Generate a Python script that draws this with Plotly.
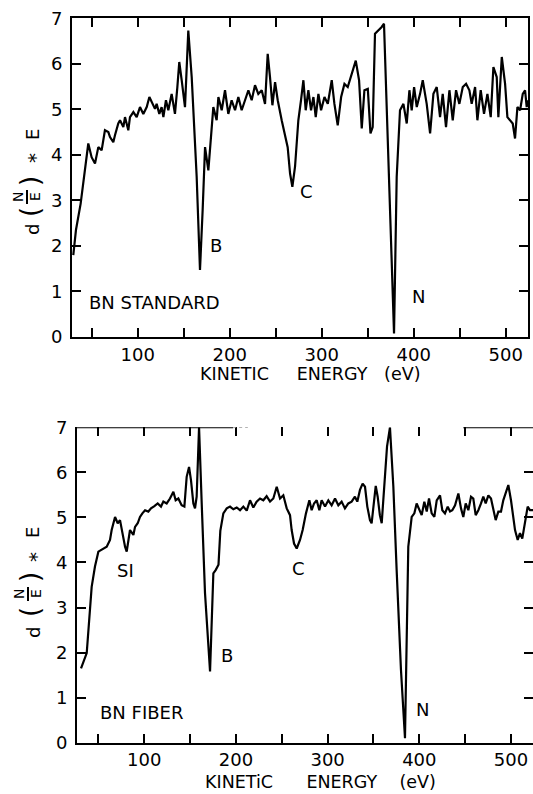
import plotly.graph_objects as go

W, H = 533, 794
FONT = "DejaVu Sans"

# ---------------- data ----------------
top_energy = [30.0, 32.9, 38.0, 42.7, 46.3, 49.9, 53.6, 57.2, 60.8, 64.4, 68.1, 69.9, 73.5, 75.3,
              78.9, 80.8, 84.4, 86.2, 89.8, 91.6, 95.3, 98.9, 102.5, 106.1, 109.8, 112.7, 115.2,
              118.8, 120.6, 123.5, 126.0, 127.9, 130.7, 133.3, 136.9, 140.5, 143.1, 145.2, 147.8,
              151.4, 155.0, 158.7, 164.1, 167.7, 170.6, 173.2, 176.8, 179.3, 182.2, 185.8, 187.7,
              191.3, 194.9, 198.5, 202.1, 205.8, 209.4, 213.0, 216.6, 220.3, 223.9, 227.5, 231.1,
              234.8, 238.4, 241.3, 243.8, 246.4, 249.3, 252.2, 256.5, 260.1, 263.0, 265.6, 268.1,
              271.0, 274.6, 277.5, 280.1, 282.6, 285.5, 288.4, 291.0, 293.5, 296.4, 299.3, 303.0,
              306.6, 310.9, 313.8, 317.4, 321.1, 324.7, 328.3, 331.9, 337.0, 340.6, 343.5, 346.4,
              350.1, 353.0, 355.4, 357.9, 361.5, 365.2, 367.7, 370.6, 374.2, 378.6, 381.5, 385.1,
              388.8, 392.4, 395.3, 397.8, 400.4, 403.3, 406.9, 409.8, 414.1, 417.8, 421.4, 425.0,
              428.6, 431.5, 435.1, 438.8, 442.4, 446.0, 449.6, 453.3, 456.9, 460.5, 463.0, 466.7,
              469.2, 472.8, 476.4, 480.1, 483.7, 486.6, 490.2, 492.0, 495.7, 499.3, 501.8, 504.7,
              507.6, 510.1, 512.7, 515.6, 518.5, 521.0, 522.8, 524.2]
top_signal = [1.80, 2.35, 2.93, 3.66, 4.25, 3.95, 3.81, 4.17, 4.10, 4.54, 4.50, 4.39, 4.28, 4.43,
              4.69, 4.76, 4.61, 4.83, 4.54, 4.83, 4.94, 4.83, 5.05, 4.90, 5.05, 5.27, 5.16,
              5.01, 5.12, 4.90, 5.05, 4.83, 5.20, 4.98, 5.34, 4.90, 5.49, 6.04, 5.64,
              5.05, 6.73, 5.71, 3.52, 1.47, 2.79, 4.17, 3.66, 4.25, 5.05, 4.76, 5.27,
              4.98, 5.42, 4.90, 5.20, 4.98, 5.27, 4.98, 5.20, 5.42, 5.20, 5.53, 5.34,
              5.42, 5.12, 6.22, 5.71, 5.09, 5.60, 5.20, 4.76, 4.39, 4.17, 3.59, 3.30,
              3.74, 4.76, 5.20, 5.64, 4.98, 5.42, 4.98, 5.27, 4.83, 5.34, 4.98, 5.27,
              5.12, 5.64, 5.12, 4.65, 5.27, 5.56, 5.49, 5.71, 6.07, 5.64, 4.58, 5.42,
              5.45, 4.47, 4.61, 6.66, 6.73, 6.81, 6.88, 4.98, 2.79, 0.08, 3.52, 4.98,
              5.12, 4.69, 5.42, 4.98, 5.49, 5.05, 5.34, 5.64, 5.12, 4.47, 5.34, 5.49,
              4.83, 5.34, 4.61, 5.42, 4.76, 5.42, 5.12, 5.49, 5.56, 5.42, 5.12, 5.49,
              4.76, 5.42, 4.90, 5.34, 4.83, 5.93, 5.71, 4.83, 6.15, 5.56, 4.83, 4.76,
              4.69, 4.36, 5.05, 4.98, 5.34, 5.42, 5.05, 5.20]

bot_energy = [31.1, 37.3, 42.7, 46.3, 50.0, 53.6, 59.1, 62.7, 64.5, 68.2, 71.1, 73.6, 76.2, 79.1,
              80.9, 84.5, 88.2, 90.0, 92.9, 95.4, 98.0, 100.9, 104.5, 107.4, 111.1, 114.7, 118.3,
              120.9, 124.5, 128.1, 131.8, 134.3, 137.2, 140.8, 143.8, 146.3, 148.9, 151.0, 153.6,
              155.4, 157.2, 159.8, 162.7, 166.3, 171.8, 175.4, 177.9, 181.0, 183.0, 186.3, 190.0,
              193.6, 197.2, 200.9, 204.5, 208.1, 211.8, 215.4, 219.0, 222.6, 226.3, 229.9, 233.5,
              237.2, 240.8, 244.5, 248.1, 251.7, 255.4, 259.0, 260.8, 263.4, 266.3, 269.9, 272.8,
              276.4, 280.1, 282.6, 285.2, 288.1, 291.0, 293.5, 297.2, 300.8, 304.4, 308.1, 311.7,
              315.3, 318.9, 322.6, 326.2, 329.8, 332.4, 335.3, 338.2, 340.8, 343.3, 346.2, 348.0,
              350.6, 352.5, 354.6, 357.0, 359.0, 361.9, 364.8, 368.0, 371.7, 375.3, 380.0, 384.4,
              388.0, 391.7, 394.6, 397.1, 399.7, 402.6, 405.5, 408.1, 410.6, 413.5, 416.4, 419.0,
              422.6, 425.1, 428.0, 431.0, 433.5, 436.0, 439.0, 442.6, 445.5, 448.0, 450.6, 453.5,
              456.4, 458.9, 461.5, 464.4, 467.3, 469.8, 472.4, 475.3, 478.2, 480.7, 483.3, 486.2,
              489.1, 491.6, 494.5, 497.1, 500.0, 502.5, 504.4, 507.3, 509.8, 512.3, 515.3, 518.2,
              520.7, 524.0]
bot_signal = [1.65, 1.99, 3.46, 3.91, 4.24, 4.28, 4.35, 4.50, 4.72, 5.01, 4.87, 4.94, 4.65, 4.35,
              4.24, 4.72, 4.61, 4.79, 4.87, 5.01, 5.09, 5.16, 5.13, 5.20, 5.25, 5.31, 5.24,
              5.35, 5.31, 5.42, 5.57, 5.38, 5.42, 5.27, 5.24, 5.90, 6.12, 5.83, 5.31,
              5.20, 5.46, 7.00, 5.31, 3.32, 1.58, 3.76, 3.83, 3.95, 4.70, 5.09, 5.20,
              5.24, 5.18, 5.22, 5.16, 5.24, 5.15, 5.38, 5.22, 5.35, 5.42, 5.38, 5.47,
              5.35, 5.42, 5.68, 5.42, 5.49, 5.20, 5.05, 4.72, 4.42, 4.31, 4.50, 4.72,
              5.09, 5.38, 5.16, 5.31, 5.38, 5.16, 5.38, 5.24, 5.38, 5.27, 5.42, 5.27,
              5.35, 5.20, 5.31, 5.35, 5.46, 5.35, 5.61, 5.75, 5.68, 5.24, 4.94, 4.87,
              5.31, 5.70, 5.46, 5.05, 4.87, 5.68, 6.57, 7.00, 5.68, 3.83, 1.62, 0.10,
              4.35, 5.01, 5.09, 5.31, 5.20, 5.05, 5.35, 5.13, 5.42, 5.09, 5.01, 5.38,
              5.49, 5.16, 5.09, 5.24, 5.13, 5.16, 5.27, 5.53, 5.20, 5.01, 5.31, 5.16,
              5.46, 5.42, 5.05, 5.16, 5.31, 5.46, 5.31, 5.49, 5.42, 5.16, 4.94, 5.13,
              5.13, 5.38, 5.57, 5.72, 5.38, 4.94, 4.72, 4.50, 4.65, 4.53, 4.87, 5.24,
              5.16, 5.16]

x_tick_vals = [50, 100, 150, 200, 250, 300, 350, 400, 450, 500]
x_tick_text = ["", "100", "", "200", "", "300", "", "400", "", "500"]
y_tick_vals = [0, 1, 2, 3, 4, 5, 6, 7]
y_tick_text = ["0", "1", "2", "3", "4", "5", "6", "7"]


def px(p):
    return p / W


def py(p):
    return 1 - p / H


fig = go.Figure()
line_style = dict(color="black", width=2.2)
fig.add_trace(go.Scatter(x=top_energy, y=top_signal, mode="lines", line=line_style,
                         xaxis="x", yaxis="y", showlegend=False, hoverinfo="skip"))
fig.add_trace(go.Scatter(x=bot_energy, y=bot_signal, mode="lines", line=line_style,
                         xaxis="x2", yaxis="y2", showlegend=False, hoverinfo="skip"))
# invisible trace to carry the top tick axis of the lower panel
fig.add_trace(go.Scatter(x=[bot_energy[0]], y=[bot_signal[0]], mode="markers",
                         marker=dict(opacity=0), xaxis="x3", yaxis="y2",
                         showlegend=False, hoverinfo="skip"))

tickfont = dict(family=FONT, size=18, color="black")
common = dict(showgrid=False, zeroline=False, ticks="inside", ticklen=9, tickwidth=2,
              tickcolor="black", showline=True, linewidth=2, linecolor="black",
              tickfont=tickfont, automargin=False)

fig.update_layout(
    template="none",
    width=W, height=H, autosize=False,
    margin=dict(l=0, r=0, t=0, b=0, pad=0),
    paper_bgcolor="white", plot_bgcolor="white",
    showlegend=False,
    xaxis=dict(common, domain=[px(72), px(528)], range=[28.6, 524.2], anchor="y",
               mirror="ticks", tickvals=x_tick_vals, ticktext=x_tick_text,
               ticklabeloverflow="allow"),
    yaxis=dict(common, domain=[py(337), py(18.3)], range=[0, 7], anchor="x",
               mirror="ticks", tickvals=y_tick_vals, ticktext=y_tick_text,
               ticklabelstandoff=4, ticklabeloverflow="allow"),
    xaxis2=dict(common, domain=[px(77), 1.0], range=[26.7, 524.0], anchor="y2",
                mirror=False, tickvals=x_tick_vals, ticktext=x_tick_text,
                ticklabeloverflow="allow"),
    xaxis3=dict(showgrid=False, zeroline=False, ticks="inside", ticklen=9, tickwidth=2,
                tickcolor="black", showline=False, showticklabels=False, automargin=False,
                overlaying="x2", side="top", anchor="y2", range=[26.7, 524.0],
                tickvals=x_tick_vals),
    yaxis2=dict(common, domain=[py(742.7), py(427.3)], range=[0, 7], anchor="x2",
                mirror="ticks", tickvals=y_tick_vals, ticktext=y_tick_text,
                ticklabelstandoff=4, ticklabeloverflow="allow"),
)

# partial top border of the lower panel
fig.add_shape(type="line", xref="x2", yref="y2", x0=26.7, x1=197, y0=7, y1=7,
              line=dict(color="black", width=2))
fig.add_shape(type="line", xref="x2", yref="y2", x0=197, x1=213, y0=7, y1=7,
              line=dict(color="#999999", width=1.5, dash="dot"))
fig.add_shape(type="line", xref="x2", yref="y2", x0=448, x1=524, y0=7, y1=7,
              line=dict(color="black", width=2))

ann = []
lab_font = dict(family=FONT, size=18, color="black")
title_font = dict(family=FONT, size=17.5, color="black")


def label(text, x, y, xr, yr, xanchor="center"):
    ann.append(dict(text=text, x=x, y=y, xref=xr, yref=yr, showarrow=False,
                    xanchor=xanchor, yanchor="middle", font=lab_font))


# peak labels, upper panel
label("B", 185, 2.0, "x", "y")
label("C", 283, 3.19, "x", "y")
label("N", 405, 0.88, "x", "y")
label("BN STANDARD", 44.6, 0.75, "x", "y", xanchor="left")
# peak labels, lower panel
label("SI", 80, 3.83, "x2", "y2")
label("B", 190, 1.93, "x2", "y2")
label("C", 268, 3.87, "x2", "y2")
label("N", 404, 0.73, "x2", "y2")
label("BN FIBER", 50, 0.66, "x2", "y2", xanchor="left")

NB = "\u00a0"
ann.append(dict(text="KINETIC" + NB * 5 + "ENERGY" + NB * 3 + "(eV)", x=px(310.5), y=py(373.5),
                xref="paper", yref="paper", showarrow=False, xanchor="center",
                yanchor="middle", font=title_font))
ann.append(dict(text="KINETiC" + NB * 6 + "ENERGY" + NB * 4 + "(eV)", x=px(320), y=py(782),
                xref="paper", yref="paper", showarrow=False, xanchor="center",
                yanchor="middle", font=title_font))


def ytitle(pos, bar):
    for text, x, y, size in pos:
        ann.append(dict(text=text, x=px(x), y=py(y), xref="paper", yref="paper",
                        showarrow=False, textangle=-90, xanchor="center",
                        yanchor="middle", font=dict(family=FONT, size=size, color="black")))
    fig.add_shape(type="line", xref="paper", yref="paper", x0=px(bar[0]), x1=px(bar[0]),
                  y0=py(bar[1]), y1=py(bar[2]), line=dict(color="black", width=2))


ytitle([("d", 33, 230, 18), ("(", 30, 212, 26), ("N", 18, 197, 14), ("E", 35, 197, 14),
        (")", 30, 181, 26), ("*", 35, 158, 20), ("E", 32, 135, 18)], (27, 190, 204))
ytitle([("d", 33, 633, 18), ("(", 30, 612, 26), ("N", 19, 594, 14), ("E", 36, 594, 14),
        (")", 30, 577, 26), ("*", 36, 557, 20), ("E", 32, 533, 18)], (28, 587, 601))

fig.update_layout(annotations=ann)
fig.write_html(
    "out.html",
    config={"displayModeBar": False, "staticPlot": True},
    post_script="document.body.style.margin='0';document.body.style.padding='0';"
                "document.body.style.overflow='hidden';",
)
